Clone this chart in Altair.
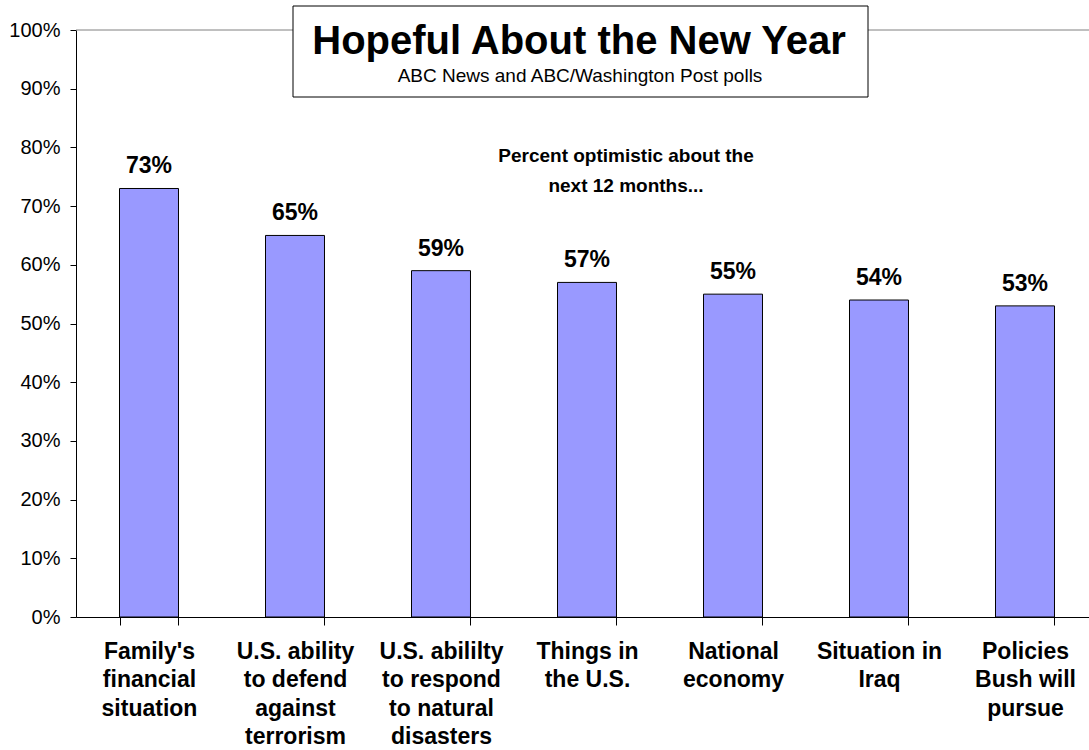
import altair as alt
import pandas as pd

FONT = "Liberation Sans, Arial, sans-serif"

categories = [
    "Family's|financial|situation",
    "U.S. ability|to defend|against|terrorism",
    "U.S. abililty|to respond|to natural|disasters",
    "Things in|the U.S.",
    "National|economy",
    "Situation in|Iraq",
    "Policies|Bush will|pursue",
]
values = [73, 65, 59, 57, 55, 54, 53]
y_ticks = [0, 10, 20, 30, 40, 50, 60, 70, 80, 90, 100]

title_text = "Hopeful About the New Year"
subtitle_text = "ABC News and ABC/Washington Post polls"
note_lines = ["Percent optimistic about the", "next 12 months..."]

df = pd.DataFrame({"cat": categories, "val": values})
df["label"] = df["val"].astype(str) + "%"

xscale = alt.Scale(domain=categories, range=[0, 1022], paddingInner=0.596, paddingOuter=0.298)
yscale = alt.Scale(domain=[0, 100], nice=False)

base = alt.Chart(df)

bars = base.mark_bar(color="#9999FF", stroke="black", strokeWidth=1).encode(
    x=alt.X(
        "cat:N",
        sort=categories,
        scale=xscale,
        axis=alt.Axis(
            title=None,
            labelExpr="split(datum.label, '|')",
            labelAngle=0,
            labelFont=FONT,
            labelFontSize=23,
            labelFontWeight="bold",
            labelColor="black",
            labelLineHeight=28.5,
            labelPadding=15,
            labelBaseline="top",
            labelLimit=0,
            labelOverlap=False,
            tickBand="extent",
            tickSize=8,
            tickColor="black",
            domainColor="black",
            grid=False,
        ),
    ),
    y=alt.Y(
        "val:Q",
        scale=yscale,
        axis=alt.Axis(
            title=None,
            values=y_ticks,
            labelExpr="datum.value + '%'",
            labelFont=FONT,
            labelFontSize=20,
            labelColor="black",
            labelPadding=10,
            tickSize=6,
            tickColor="black",
            domainColor="black",
            grid=False,
        ),
    ),
)

bar_labels = base.mark_text(
    font=FONT, fontSize=23, fontWeight="bold", color="black", dy=-15, baseline="alphabetic"
).encode(
    x=alt.X("cat:N", sort=categories, scale=xscale),
    y=alt.Y("val:Q", scale=yscale),
    text="label:N",
)

top_rule = alt.Chart(pd.DataFrame({"y": [100]})).mark_rule(color="#808080", strokeWidth=1).encode(
    y=alt.Y("y:Q", scale=yscale)
)

one = alt.Chart(pd.DataFrame({"a": [0]}))

box = one.mark_rect(fill="white", stroke="black", strokeWidth=1).encode(
    x=alt.value(217), x2=alt.value(792), y=alt.value(-24), y2=alt.value(67)
)
title = one.mark_text(
    text=title_text, font=FONT, fontSize=40, fontWeight="bold", color="black", align="center", baseline="alphabetic"
).encode(x=alt.value(503), y=alt.value(24))
subtitle = one.mark_text(
    text=subtitle_text, font=FONT, fontSize=19, color="black", align="center", baseline="alphabetic"
).encode(x=alt.value(504), y=alt.value(52))

note1 = one.mark_text(
    text=note_lines[0], font=FONT, fontSize=19, fontWeight="bold", color="black", align="center", baseline="alphabetic"
).encode(x=alt.value(550), y=alt.value(132))
note2 = one.mark_text(
    text=note_lines[1], font=FONT, fontSize=19, fontWeight="bold", color="black", align="center", baseline="alphabetic"
).encode(x=alt.value(550), y=alt.value(162))

chart = alt.layer(top_rule, bars, bar_labels, box, title, subtitle, note1, note2).properties(
    width=1013,
    height=587,
    autosize=alt.AutoSizeParams(type="none"),
    padding={"left": 76, "top": 30, "right": 0, "bottom": 133},
    background="white",
).configure_view(stroke=None)

chart.save("out.html", embed_options={"renderer": "svg", "actions": False})
